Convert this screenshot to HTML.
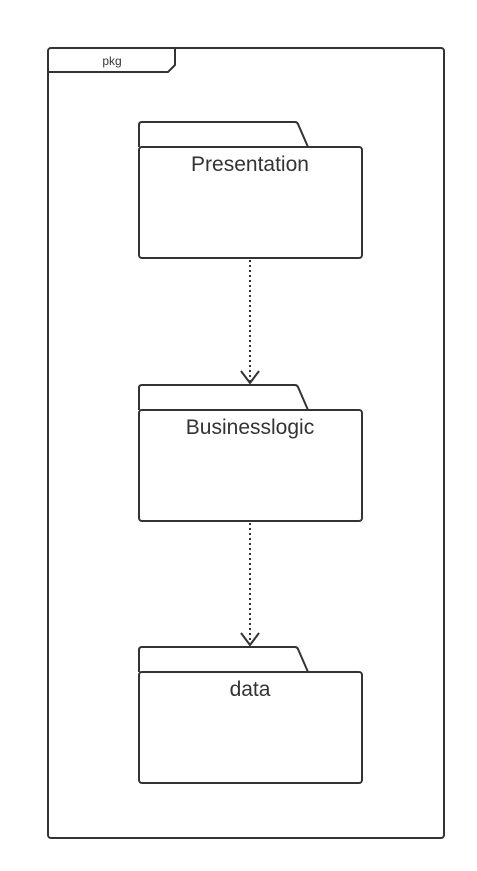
<!DOCTYPE html>
<html><head><meta charset="utf-8"><style>
html,body{margin:0;padding:0;background:#fff;}
svg{display:block;}
text{font-family:"Liberation Sans",sans-serif;fill:#333;}
</style></head><body>
<svg width="477" height="871" viewBox="0 0 477 871" xmlns="http://www.w3.org/2000/svg">
<g fill="none" stroke="#333" stroke-width="2" stroke-linejoin="round">
<rect x="48" y="48" width="396" height="790" rx="3"/>
<path d="M48 72 H168 L175 65 V48"/>
<path d="M139 147 V125 Q139 122 142 122 H295 Q297 122 298 124 L308 147"/>
<rect x="139" y="147" width="223" height="111" rx="3"/>
<path d="M139 410 V388 Q139 385 142 385 H295 Q297 385 298 387 L308 410"/>
<rect x="139" y="410" width="223" height="111" rx="3"/>
<path d="M139 672 V650 Q139 647 142 647 H295 Q297 647 298 649 L308 672"/>
<rect x="139" y="672" width="223" height="111" rx="3"/>
<path d="M250 260 V382" stroke-dasharray="2 3"/>
<path d="M241 371 L250 383 L259 371"/>
<path d="M250 523 V645" stroke-dasharray="2 3"/>
<path d="M241 633 L250 645 L259 633"/>
</g>
<text x="112" y="65" font-size="12" text-anchor="middle">pkg</text>
<text x="250" y="171" font-size="21" text-anchor="middle">Presentation</text>
<text x="250" y="434" font-size="21" text-anchor="middle">Businesslogic</text>
<text x="250" y="696" font-size="21" text-anchor="middle">data</text>
</svg>
</body></html>
